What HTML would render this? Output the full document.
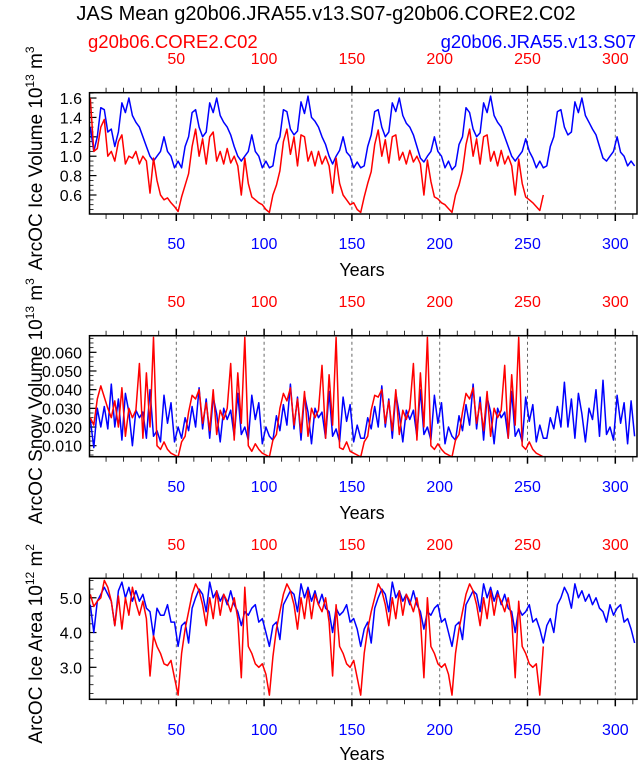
<!DOCTYPE html>
<html><head><meta charset="utf-8">
<style>
html,body{margin:0;padding:0;background:#fff;}
svg{display:block;font-family:"Liberation Sans",Arial,sans-serif;}
</style></head>
<body>
<svg id="chart" width="638" height="762" viewBox="0 0 638 762" xmlns="http://www.w3.org/2000/svg">
<text x="326" y="20" font-size="20" text-anchor="middle" fill="#000">JAS Mean g20b06.JRA55.v13.S07-g20b06.CORE2.C02</text>
<text x="88" y="48" font-size="18.5" fill="#f00">g20b06.CORE2.C02</text>
<text x="636" y="48" font-size="18.5" text-anchor="end" fill="#00f">g20b06.JRA55.v13.S07</text>
</svg>
<script>
// ---------- data ----------
const xTickVals = [50,100,150,200,250,300];
const volTicks = [0.6,0.8,1.0,1.2,1.4,1.6];
const volLabels = ["0.6","0.8","1.0","1.2","1.4","1.6"];
const snowTicks = [0.01,0.02,0.03,0.04,0.05,0.06];
const snowLabels = ["0.010","0.020","0.030","0.040","0.050","0.060"];
const areaTicks = [3,4,5];
const areaLabels = ["3.0","4.0","5.0"];
// red series: years 1,3,...,259 ; blue series: years 1,3,...,311
const volRed = [
1.6,1.05,1.08,1.3,1.38,1.0,1.05,0.95,1.15,1.22,0.92,1.0,0.98,1.05,0.92,1.0,0.95,0.62,0.98,0.75,0.6,0.55,0.57,0.52,0.48,0.43,
0.58,0.7,0.82,1.1,1.28,1.0,1.18,0.92,1.2,1.25,0.95,1.05,0.92,1.08,0.93,1.0,0.9,0.6,0.98,0.72,0.58,0.55,0.52,0.5,0.45,0.42,
0.6,0.7,0.85,1.15,1.28,1.02,1.2,0.9,1.22,1.2,0.95,1.05,0.9,1.05,0.92,1.0,0.9,0.62,0.98,0.72,0.6,0.55,0.5,0.52,0.45,0.42,
0.58,0.72,0.84,1.12,1.27,1.0,1.17,0.93,1.2,1.22,0.96,1.04,0.92,1.06,0.94,1.0,0.92,0.6,0.96,0.74,0.58,0.56,0.52,0.5,0.46,0.42,
0.6,0.7,0.85,1.12,1.28,1.0,1.18,0.92,1.2,1.22,0.95,1.05,0.9,1.06,0.92,1.0,0.9,0.6,0.97,0.72,0.58,0.55,0.52,0.48,0.44,0.6];
const volBlue = [
1.3,1.05,1.2,1.5,1.48,1.25,1.28,1.1,1.25,1.55,1.45,1.6,1.42,1.35,1.3,1.2,1.1,1.0,0.95,1.0,1.05,1.2,1.05,1.0,0.88,0.95,
0.88,1.1,1.2,1.45,1.48,1.3,1.2,1.25,1.55,1.45,1.6,1.42,1.35,1.3,1.22,1.1,1.0,0.95,1.0,1.05,1.22,1.05,1.0,0.88,0.95,0.88,
0.9,1.12,1.2,1.48,1.46,1.28,1.22,1.26,1.56,1.44,1.62,1.4,1.36,1.3,1.2,1.12,1.0,0.92,1.0,1.06,1.2,1.04,1.0,0.88,0.94,0.88,
0.9,1.1,1.22,1.46,1.48,1.3,1.2,1.25,1.55,1.46,1.6,1.42,1.34,1.3,1.22,1.1,0.98,0.94,1.0,1.05,1.2,1.05,1.0,0.88,0.95,0.86,
0.9,1.12,1.2,1.5,1.45,1.28,1.2,1.24,1.55,1.45,1.62,1.42,1.35,1.3,1.2,1.1,1.0,0.95,1.0,1.05,1.18,1.05,0.98,0.88,0.95,0.88,
0.9,1.1,1.2,1.46,1.48,1.3,1.22,1.25,1.56,1.45,1.6,1.42,1.35,1.28,1.22,1.1,0.98,0.95,1.0,1.05,1.2,1.04,1.0,0.9,0.95,0.9];
const snowRed = [
0.025,0.021,0.035,0.042,0.036,0.030,0.025,0.034,0.020,0.041,0.015,0.030,0.025,0.029,0.054,0.014,0.049,0.020,0.068,0.010,0.008,0.012,0.008,0.006,0.005,0.004,
0.012,0.015,0.028,0.037,0.035,0.040,0.022,0.033,0.018,0.040,0.016,0.029,0.024,0.030,0.054,0.013,0.049,0.022,0.068,0.010,0.007,0.011,0.008,0.006,0.005,0.004,
0.013,0.016,0.030,0.038,0.034,0.041,0.021,0.035,0.017,0.039,0.015,0.030,0.025,0.029,0.053,0.014,0.048,0.021,0.068,0.009,0.008,0.012,0.007,0.006,0.005,0.004,
0.012,0.015,0.029,0.037,0.036,0.040,0.022,0.034,0.018,0.040,0.016,0.029,0.024,0.030,0.054,0.013,0.049,0.020,0.068,0.010,0.008,0.011,0.008,0.006,0.005,0.004,
0.013,0.016,0.028,0.038,0.035,0.041,0.022,0.033,0.018,0.039,0.015,0.030,0.025,0.029,0.053,0.014,0.048,0.021,0.068,0.010,0.008,0.012,0.008,0.006,0.005,0.004];
const snowBlue = [
0.024,0.009,0.030,0.020,0.031,0.019,0.043,0.020,0.035,0.013,0.038,0.028,0.010,0.029,0.025,0.028,0.014,0.040,0.015,0.018,0.012,0.037,0.022,0.033,0.012,0.020,
0.014,0.025,0.018,0.031,0.020,0.041,0.019,0.035,0.014,0.036,0.027,0.012,0.030,0.024,0.029,0.015,0.038,0.016,0.020,0.013,0.037,0.024,0.033,0.011,0.020,0.015,
0.013,0.026,0.018,0.032,0.021,0.043,0.019,0.036,0.013,0.037,0.028,0.011,0.030,0.025,0.028,0.014,0.039,0.015,0.019,0.012,0.036,0.023,0.032,0.012,0.021,0.014,
0.014,0.025,0.019,0.031,0.020,0.042,0.020,0.035,0.014,0.038,0.027,0.012,0.029,0.024,0.029,0.015,0.040,0.016,0.020,0.013,0.037,0.022,0.033,0.011,0.020,0.015,
0.013,0.026,0.018,0.032,0.021,0.043,0.019,0.036,0.013,0.036,0.028,0.011,0.030,0.025,0.028,0.014,0.039,0.015,0.019,0.012,0.036,0.023,0.032,0.012,0.021,0.014,
0.014,0.025,0.019,0.031,0.020,0.044,0.020,0.035,0.014,0.038,0.027,0.012,0.030,0.024,0.040,0.015,0.045,0.016,0.020,0.013,0.037,0.022,0.033,0.011,0.034,0.015];
const areaRed = [
5.1,4.75,4.9,5.0,5.5,5.3,4.9,4.2,5.05,4.1,5.0,4.5,5.3,4.85,4.5,4.9,4.4,2.75,3.9,3.6,3.4,3.1,3.05,3.2,2.7,2.2,
3.4,4.1,4.6,5.1,5.4,5.2,4.8,4.2,5.0,4.4,5.2,4.5,5.1,4.9,4.6,5.0,4.4,2.7,5.3,3.6,3.4,3.1,3.0,3.1,2.8,2.2,
3.3,4.1,4.6,5.1,5.4,5.2,4.8,4.1,5.0,4.4,5.2,4.4,5.1,4.8,4.6,5.0,4.3,2.75,4.8,3.6,3.4,3.1,3.0,3.2,2.7,2.2,
3.4,4.1,4.6,5.0,5.4,5.2,4.8,4.2,5.0,4.4,5.2,4.5,5.1,4.9,4.6,5.0,4.4,2.7,5.0,3.6,3.4,3.1,3.0,3.1,2.8,2.2,
3.4,4.1,4.6,5.1,5.4,5.2,4.8,4.2,5.0,4.4,5.2,4.5,5.1,4.9,4.6,5.0,4.4,2.7,4.9,3.6,3.4,3.1,3.0,3.1,2.2,3.6];
const areaBlue = [
4.8,4.0,4.9,5.1,5.3,5.1,4.9,4.2,5.2,5.45,5.0,5.3,4.9,5.2,4.9,5.1,4.7,4.6,3.9,4.7,4.5,4.5,4.8,4.3,4.3,3.6,
4.2,4.3,3.7,4.7,5.0,5.25,5.1,4.6,5.45,5.0,5.2,4.9,5.1,4.8,5.2,4.8,4.6,4.2,4.6,4.5,4.7,4.8,4.3,4.4,4.0,3.6,
4.2,4.3,3.8,4.8,5.0,5.2,5.1,4.6,5.4,5.0,5.3,4.9,5.2,4.8,5.1,4.7,4.6,4.0,4.7,4.5,4.6,4.8,4.3,4.4,4.1,3.6,
4.1,4.3,3.7,4.7,5.0,5.25,5.1,4.6,5.45,5.0,5.2,4.9,5.1,4.8,5.2,4.8,4.6,4.1,4.6,4.5,4.7,4.8,4.3,4.4,4.0,3.6,
4.2,4.3,3.8,4.8,5.0,5.2,5.1,4.6,5.4,5.0,5.3,4.9,5.2,4.8,5.1,4.7,4.6,4.0,4.7,4.5,4.6,4.8,4.3,4.4,4.1,3.7,
4.2,4.4,4.0,4.8,5.0,5.3,5.1,4.7,5.4,5.0,5.2,4.9,5.1,4.8,5.0,4.7,4.6,4.3,4.8,4.5,4.7,4.8,4.3,4.4,4.1,3.7];

// ---------- layout ----------
const svg = document.getElementById('chart');
const NS = 'http://www.w3.org/2000/svg';
const L = 89.5, R = 637;
function xs(yr){ return 88.5 + yr*1.756; }
function mk(tag, attrs, parent){ const e=document.createElementNS(NS,tag); for(const k in attrs) e.setAttribute(k,attrs[k]); (parent||svg).appendChild(e); return e; }

const panels = [
 {name:'volume', top:92.7, bot:214, min:0.404, max:1.655, minorStep:0.05, red:volRed, blue:volBlue, ticks:volTicks, labels:volLabels,
  title:['ArcOC Ice Volume 10','13',' m','3'], topLab:64, botLab:249, yearsY:276},
 {name:'snow', top:335.7, bot:456.7, min:0.0041, max:0.0689, minorStep:0.0025, red:snowRed, blue:snowBlue, ticks:snowTicks, labels:snowLabels,
  title:['ArcOC Snow Volume 10','13',' m','3'], topLab:307, botLab:492, yearsY:519},
 {name:'area', top:578.3, bot:699.3, min:2.08, max:5.56, minorStep:0.25, red:areaRed, blue:areaBlue, ticks:areaTicks, labels:areaLabels,
  title:['ArcOC Ice Area 10','12',' m','2'], topLab:550, botLab:735, yearsY:760}
];

panels.forEach(p=>{
  const g = mk('g',{});
  
  
  const ys = v => p.bot - (v-p.min)/(p.max-p.min)*(p.bot-p.top);
  xTickVals.forEach(v=>{
    const l = mk('line',{x1:xs(v),x2:xs(v),y1:p.top,y2:p.bot,stroke:'#666','stroke-width':1,'stroke-dasharray':'3,3'},g);
    
    
  });
  for(let v=10; v<=310; v+=10){
    const major = v%50===0, x=xs(v), len = major?7:5;
    mk('line',{x1:x,x2:x,y1:p.top-len,y2:p.top,stroke:'#000','stroke-width':major?1.5:0.8},g);
    mk('line',{x1:x,x2:x,y1:p.bot,y2:p.bot+len,stroke:'#000','stroke-width':major?1.5:0.8},g);
  }
  xTickVals.forEach(v=>{
    const t1 = mk('text',{x:xs(v),y:p.topLab,'font-size':16,'text-anchor':'middle',fill:'#f00'},g);
    t1.textContent = v;
    
    
    const t2 = mk('text',{x:xs(v),y:p.botLab,'font-size':16,'text-anchor':'middle',fill:'#00f'},g);
    t2.textContent = v;
    
    
  });
  for(let v=Math.ceil(p.min/p.minorStep)*p.minorStep; v<=p.max; v+=p.minorStep){
    const y=ys(v);
    mk('line',{x1:L,x2:L+4,y1:y,y2:y,stroke:'#000','stroke-width':0.8},g);
  }
  p.ticks.forEach((v,i)=>{
    const y=ys(v);
    mk('line',{x1:L,x2:L+7,y1:y,y2:y,stroke:'#000','stroke-width':1.2},g);
    const t = mk('text',{x:82,y:y+6,'font-size':16,'text-anchor':'end',fill:'#000'},g);
    t.textContent = p.labels[i];
    
    
  });
  const path = (arr,col,nm)=>{
    let d=''; arr.forEach((v,i)=>{ d += (i?'L':'M')+xs(1+2*i).toFixed(1)+','+ys(v).toFixed(1); });
    const e = mk('path',{d:d,fill:'none',stroke:col,'stroke-width':1.5,'stroke-linejoin':'round'},g);
    
    
  };
  path(p.blue,'#00f',p.name+'-jra55-line');
  path(p.red,'#f00',p.name+'-core2-line');
  const fr = mk('rect',{x:L,y:p.top,width:R-L,height:p.bot-p.top,fill:'none',stroke:'#000','stroke-width':1.5},g);
  
  
  const yr = mk('text',{x:362,y:p.yearsY,'font-size':18,'text-anchor':'middle',fill:'#000'},g);
  yr.textContent='Years';
  
  
  const cy = (p.top+p.bot)/2 + 5;
  const yt = mk('text',{x:0,y:0,'font-size':19,'text-anchor':'middle',fill:'#000',transform:'translate(42,'+cy+') rotate(-90)'},g);
  
  
  const parts = p.title;
  const s1=mk('tspan',{},yt); s1.textContent=parts[0];
  const s2=mk('tspan',{dy:-8,'font-size':12},yt); s2.textContent=parts[1];
  const s3=mk('tspan',{dy:8},yt); s3.textContent=parts[2];
  const s4=mk('tspan',{dy:-8,'font-size':12},yt); s4.textContent=parts[3];
});
</script>
</body></html>
